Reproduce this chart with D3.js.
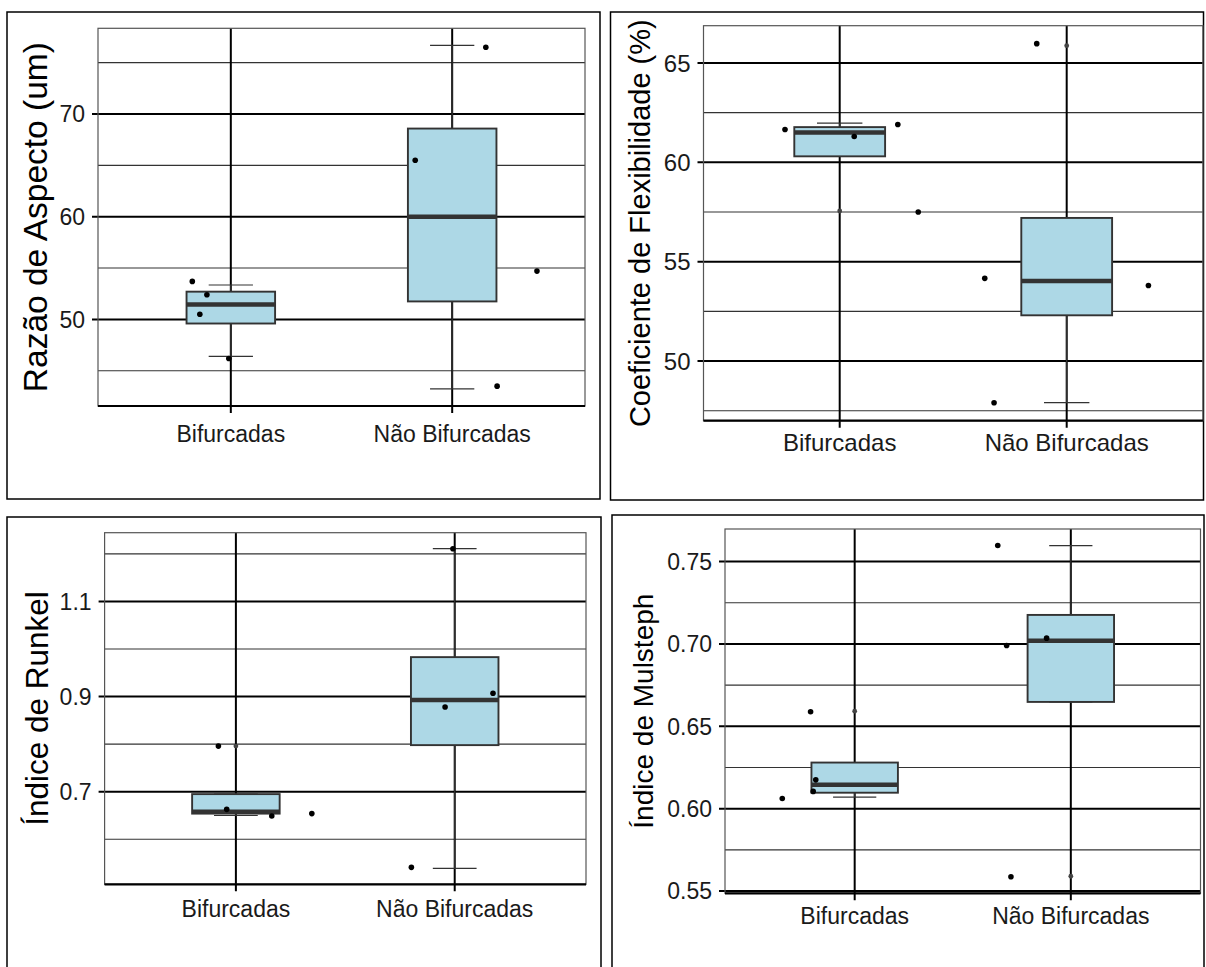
<!DOCTYPE html>
<html>
<head>
<meta charset="utf-8">
<script src="https://cdn.jsdelivr.net/npm/d3@7"></script>
<style>
  body { margin: 0; background: #fff; }
  svg { display: block; font-family: "Liberation Sans", Arial, sans-serif; }
</style>
</head>
<body>
<svg id="chart" width="1206" height="967"></svg>
<script>
var categories = ["Bifurcadas", "Não Bifurcadas"];

// box stats per category: [lower whisker, q1, median, q3, upper whisker]
var aspectBox = [[46.4, 49.6, 51.45, 52.7, 53.35], [43.24, 51.75, 60.0, 68.58, 76.67]];
var aspectPoints = [[53.7, 52.4, 50.5, 46.2], [76.5, 65.5, 54.7, 43.5]];
var aspectJitter = [[-0.174, -0.108, -0.14, -0.009], [0.152, -0.167, 0.383, 0.203]];
var aspectOutliers = [[], []];
var aspectMajor = [50, 60, 70];
var aspectMinor = [45, 55, 65, 75];

var flexBox = [[60.3, 60.3, 61.5, 61.77, 61.97], [47.91, 52.3, 54.03, 57.2, 57.2]];
var flexPoints = [[61.65, 61.3, 61.9, 57.5], [65.97, 54.16, 53.8, 47.9]];
var flexJitter = [[-0.241, 0.064, 0.256, 0.346], [-0.132, -0.361, 0.36, -0.32]];
var flexOutliers = [[57.55], [65.87]];
var flexMajor = [50, 55, 60, 65];
var flexMinor = [47.5, 52.5, 57.5, 62.5];

var runkelBox = [[0.650, 0.654, 0.658, 0.695, 0.695], [0.539, 0.798, 0.893, 0.983, 1.211]];
var runkelPoints = [[0.796, 0.663, 0.649, 0.654], [1.211, 0.907, 0.878, 0.541]];
var runkelJitter = [[-0.08, -0.042, 0.164, 0.347], [-0.008, 0.175, -0.044, -0.198]];
var runkelOutliers = [[0.796], []];
var runkelMajor = [0.7, 0.9, 1.1];
var runkelMinor = [0.6, 0.8, 1.0, 1.2];

var mulBox = [[0.607, 0.6097, 0.6145, 0.628, 0.628], [0.6648, 0.6648, 0.7019, 0.7176, 0.7597]];
var mulPoints = [[0.6588, 0.6062, 0.6175, 0.6105], [0.7597, 0.699, 0.7035, 0.5587]];
var mulJitter = [[-0.204, -0.335, -0.18, -0.192], [-0.338, -0.297, -0.112, -0.277]];
var mulOutliers = [[0.6592], [0.559]];
var mulMajor = [0.55, 0.60, 0.65, 0.70, 0.75];
var mulMinor = [0.575, 0.625, 0.675, 0.725];

var panels = [
  {title: "Razão de Aspecto (um)", box: aspectBox, pts: aspectPoints, jit: aspectJitter, out: aspectOutliers,
   major: aspectMajor, minor: aspectMinor, fmt: d3.format("d"),
   frame: [7, 12, 593, 487], plot: [98, 28.3, 585, 406], tickSize: 23, titleSize: 33.5, titleX: 47, xlabOff: 36},
  {title: "Coeficiente de Flexibilidade (%)", box: flexBox, pts: flexPoints, jit: flexJitter, out: flexOutliers,
   major: flexMajor, minor: flexMinor, fmt: d3.format("d"),
   frame: [610.5, 12, 593, 488], plot: [703.5, 25.7, 1202.9, 420.7], tickSize: 24, titleSize: 29, titleX: 650, xlabOff: 30},
  {title: "Índice de Runkel", box: runkelBox, pts: runkelPoints, jit: runkelJitter, out: runkelOutliers,
   major: runkelMajor, minor: runkelMinor, fmt: d3.format(".1f"),
   frame: [7, 517, 594, 460], plot: [104.6, 532.7, 586, 884.3], tickSize: 23, titleSize: 31.5, titleX: 48, xlabOff: 33},
  {title: "Índice de Mulsteph", box: mulBox, pts: mulPoints, jit: mulJitter, out: mulOutliers,
   major: mulMajor, minor: mulMinor, fmt: d3.format(".2f"),
   frame: [612, 515, 592, 462], plot: [725, 529, 1200.5, 893.3], tickSize: 23, titleSize: 28, titleX: 653, xlabOff: 30.7}
];

var svg = d3.select("#chart");

function drawPanel(p) {
  var g = svg.append("g");
  var left = p.plot[0], top = p.plot[1], right = p.plot[2], bottom = p.plot[3];

  // outer frame
  g.append("rect")
    .attr("x", p.frame[0]).attr("y", p.frame[1])
    .attr("width", p.frame[2]).attr("height", p.frame[3])
    .attr("fill", "#fff").attr("stroke", "#000").attr("stroke-width", 1.5);

  // y domain from data, expanded 5% like ggplot
  var all = [];
  p.box.forEach(function(b) { all.push(b[0], b[4]); });
  p.pts.forEach(function(a) { all = all.concat(a); });
  p.out.forEach(function(a) { all = all.concat(a); });
  var ext = d3.extent(all), pad = (ext[1] - ext[0]) * 0.05;

  var y = d3.scaleLinear().domain([ext[0] - pad, ext[1] + pad]).range([bottom, top]);
  var x = d3.scalePoint().domain(categories).range([left, right]).padding(0.6);
  var unit = x.step();

  // grid
  g.selectAll(".minor").data(p.minor).enter().append("line")
    .attr("x1", left).attr("x2", right)
    .attr("y1", function(d) { return y(d); }).attr("y2", function(d) { return y(d); })
    .attr("stroke", "#333").attr("stroke-width", 1.1);
  g.selectAll(".major").data(p.major).enter().append("line")
    .attr("x1", left - 6).attr("x2", right)
    .attr("y1", function(d) { return y(d); }).attr("y2", function(d) { return y(d); })
    .attr("stroke", "#000").attr("stroke-width", 2);
  g.selectAll(".vgrid").data(categories).enter().append("line")
    .attr("x1", function(d) { return x(d); }).attr("x2", function(d) { return x(d); })
    .attr("y1", top).attr("y2", bottom + 7)
    .attr("stroke", "#000").attr("stroke-width", 2);

  // panel border + x axis line
  g.append("rect")
    .attr("x", left).attr("y", top).attr("width", right - left).attr("height", bottom - top)
    .attr("fill", "none").attr("stroke", "#555").attr("stroke-width", 1.2);
  g.append("line")
    .attr("x1", left).attr("x2", right).attr("y1", bottom).attr("y2", bottom)
    .attr("stroke", "#000").attr("stroke-width", 2.2);

  // y tick labels
  g.selectAll(".ylab").data(p.major).enter().append("text")
    .attr("x", left - 13).attr("y", function(d) { return y(d); })
    .attr("dy", "0.36em").attr("text-anchor", "end")
    .attr("font-size", p.tickSize).attr("fill", "#1a1a1a")
    .text(function(d) { return p.fmt(d); });

  // x tick labels
  g.selectAll(".xlab").data(categories).enter().append("text")
    .attr("x", function(d) { return x(d); }).attr("y", bottom + p.xlabOff)
    .attr("text-anchor", "middle")
    .attr("font-size", p.tickSize).attr("fill", "#1a1a1a")
    .text(function(d) { return d; });

  // y title
  g.append("text")
    .attr("transform", "translate(" + p.titleX + "," + ((top + bottom) / 2) + ") rotate(-90)")
    .attr("text-anchor", "middle")
    .attr("font-size", p.titleSize).attr("fill", "#000")
    .text(p.title);

  var boxes = categories.map(function(c, i) { return {cat: c, s: p.box[i], out: p.out[i]}; });

  // errorbar caps
  g.selectAll(".cap").data(boxes.flatMap(function(b) {
      return [{cat: b.cat, v: b.s[0]}, {cat: b.cat, v: b.s[4]}];
    })).enter().append("line")
    .attr("x1", function(d) { return x(d.cat) - unit * 0.1; })
    .attr("x2", function(d) { return x(d.cat) + unit * 0.1; })
    .attr("y1", function(d) { return y(d.v); }).attr("y2", function(d) { return y(d.v); })
    .attr("stroke", "#333").attr("stroke-width", 1.2);

  // whiskers
  boxes.forEach(function(b) {
    var cx = x(b.cat);
    g.append("line").attr("x1", cx).attr("x2", cx)
      .attr("y1", y(b.s[3])).attr("y2", y(b.s[4]))
      .attr("stroke", "#333").attr("stroke-width", 1.2);
    g.append("line").attr("x1", cx).attr("x2", cx)
      .attr("y1", y(b.s[0])).attr("y2", y(b.s[1]))
      .attr("stroke", "#333").attr("stroke-width", 1.2);
  });

  // boxes
  g.selectAll(".box").data(boxes).enter().append("rect")
    .attr("x", function(d) { return x(d.cat) - unit * 0.2; })
    .attr("width", unit * 0.4)
    .attr("y", function(d) { return y(d.s[3]); })
    .attr("height", function(d) { return y(d.s[1]) - y(d.s[3]); })
    .attr("fill", "#add8e6").attr("stroke", "#333").attr("stroke-width", 1.9);
  g.selectAll(".median").data(boxes).enter().append("line")
    .attr("x1", function(d) { return x(d.cat) - unit * 0.2; })
    .attr("x2", function(d) { return x(d.cat) + unit * 0.2; })
    .attr("y1", function(d) { return y(d.s[2]); }).attr("y2", function(d) { return y(d.s[2]); })
    .attr("stroke", "#333").attr("stroke-width", 4.5);

  // outliers (at category centre)
  g.selectAll(".outlier").data(boxes.flatMap(function(b) {
      return b.out.map(function(v) { return {cat: b.cat, v: v}; });
    })).enter().append("circle")
    .attr("cx", function(d) { return x(d.cat); })
    .attr("cy", function(d) { return y(d.v); })
    .attr("r", 2.4).attr("fill", "#444");

  // jittered points
  var pts = [];
  categories.forEach(function(c, i) {
    p.pts[i].forEach(function(v, j) { pts.push({cat: c, v: v, j: p.jit[i][j]}); });
  });
  g.selectAll(".pt").data(pts).enter().append("circle")
    .attr("cx", function(d) { return x(d.cat) + d.j * unit; })
    .attr("cy", function(d) { return y(d.v); })
    .attr("r", 2.8).attr("fill", "#000");
}

panels.forEach(drawPanel);
</script>
</body>
</html>
